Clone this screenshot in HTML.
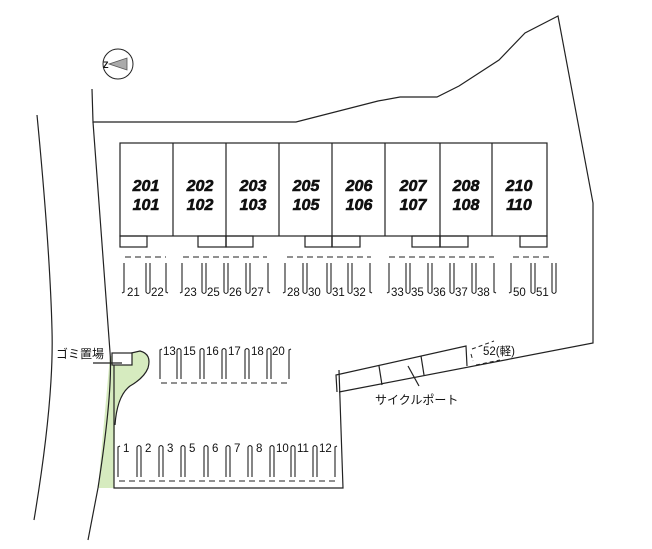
<!DOCTYPE html>
<html><head><meta charset="utf-8"><style>
html,body{margin:0;padding:0;background:#fff;}
svg{display:block;}
.t{font-family:"Liberation Sans","Noto Sans CJK JP",sans-serif;font-size:11.5px;fill:#111;}
.b{font-family:"Liberation Sans","Noto Sans CJK JP",sans-serif;font-size:16px;font-weight:bold;font-style:italic;fill:#111;stroke:#111;stroke-width:0.6;text-anchor:middle;}
.j{font-family:"Liberation Sans","Noto Sans CJK JP",sans-serif;font-size:12px;fill:#111;}
</style></head><body>
<svg width="652" height="549" viewBox="0 0 652 549" xmlns="http://www.w3.org/2000/svg" fill="none" stroke="#222" stroke-width="1.2">
<path d="M37,115 Q50,250 52,330 Q54,400 34,520"/>
<path d="M113,356 L140,351 Q152,354 148,368 Q144,378 130,386 Q118,396 115,420 L114,488 L98,488 L110,356 Z" fill="#d6ebbf" stroke="none"/>
<path d="M114,357 L140,351 Q152,354 148,368 Q144,378 130,386 Q117,396 115,425" />
<path d="M92,89 L93,122 L296,122 L378,101 L400,97 L437,97 L459,86 L499,60 L525,33 L558,16 L593,203 L593,343 L339,392"/>
<path d="M93,122 L110,352 Q113,390 98,488 L88,540"/>
<path d="M114,356 L114,488 L343,488 L339,370"/>
<rect x="112" y="353" width="20" height="12" fill="#fff"/>
<line x1="93" y1="363" x2="122" y2="363"/>
<text class="j" x="56" y="358" stroke="none">ゴミ置場</text>
<circle cx="118" cy="64" r="15" stroke-width="1"/>
<path d="M109,64 L127,58 L127,70 Z" fill="#aaa" stroke="#555" stroke-width="0.8"/>
<text x="103" y="68" font-family="Liberation Sans" font-size="9" font-weight="bold" fill="#111" stroke="none">Z</text>
<rect x="120" y="143" width="427" height="93"/>
<g>
<line x1="173" y1="143" x2="173" y2="236"/><line x1="226" y1="143" x2="226" y2="247"/>
<line x1="279" y1="143" x2="279" y2="236"/><line x1="332" y1="143" x2="332" y2="247"/>
<line x1="385" y1="143" x2="385" y2="236"/><line x1="440" y1="143" x2="440" y2="247"/>
<line x1="492" y1="143" x2="492" y2="236"/>
<rect x="120" y="236" width="27" height="11"/><rect x="198" y="236" width="28" height="11"/>
<rect x="226" y="236" width="27" height="11"/><rect x="305" y="236" width="27" height="11"/>
<rect x="332" y="236" width="28" height="11"/><rect x="412" y="236" width="28" height="11"/>
<rect x="440" y="236" width="28" height="11"/><rect x="520" y="236" width="27" height="11"/>
</g>
<g>
<text class="b" x="146" y="191">201</text><text class="b" x="146" y="210">101</text>
<text class="b" x="200" y="191">202</text><text class="b" x="200" y="210">102</text>
<text class="b" x="253" y="191">203</text><text class="b" x="253" y="210">103</text>
<text class="b" x="306" y="191">205</text><text class="b" x="306" y="210">105</text>
<text class="b" x="359" y="191">206</text><text class="b" x="359" y="210">106</text>
<text class="b" x="413" y="191">207</text><text class="b" x="413" y="210">107</text>
<text class="b" x="466" y="191">208</text><text class="b" x="466" y="210">108</text>
<text class="b" x="519" y="191">210</text><text class="b" x="519" y="210">110</text>
</g>
<g stroke-width="1.1">
<path d="M125,257 H166 M183,257 H267 M287,257 H371 M389,257 H494 M513,257 H553" stroke-dasharray="6,4"/>
<path d="M124,263 V292 L122,293 M146,263 V292 Q148,295 150,292 V263 M166,263 V292 L168,293"/>
<path d="M182,263 V292 L180,293 M202,263 V292 Q204,295 206,292 V263 M224,263 V292 Q226,295 228,292 V263 M246,263 V292 Q248,295 250,292 V263 M268,263 V292 L270,293"/>
<path d="M285,263 V292 L283,293 M303,263 V292 Q305,295 307,292 V263 M327,263 V292 Q329,295 331,292 V263 M348,263 V292 Q350,295 352,292 V263 M370,263 V292 L372,293"/>
<path d="M389,263 V292 L387,293 M406,263 V292 Q408,295 410,292 V263 M428,263 V292 Q430,295 432,292 V263 M450,263 V292 Q452,295 454,292 V263 M472,263 V292 Q474,295 476,292 V263 M494,263 V292 L496,293"/>
<path d="M511,263 V292 L509,293 M531,263 V292 Q533,295 535,292 V263 M552,263 V292 Q554,295 556,292 V263"/>
</g>
<g stroke="none">
<text class="t" x="127" y="296">21</text><text class="t" x="151" y="296">22</text>
<text class="t" x="184" y="296">23</text><text class="t" x="207" y="296">25</text><text class="t" x="229" y="296">26</text><text class="t" x="251" y="296">27</text>
<text class="t" x="287" y="296">28</text><text class="t" x="308" y="296">30</text><text class="t" x="332" y="296">31</text><text class="t" x="353" y="296">32</text>
<text class="t" x="391" y="296">33</text><text class="t" x="411" y="296">35</text><text class="t" x="433" y="296">36</text><text class="t" x="455" y="296">37</text><text class="t" x="477" y="296">38</text>
<text class="t" x="513" y="296">50</text><text class="t" x="536" y="296">51</text>
</g>
<g stroke-width="1.1">
<path d="M161,383 H290" stroke-dasharray="6,4"/>
<path d="M160,379 V350 L162,349 M177,379 V350 Q179,347 181,350 V379 M200,379 V350 Q202,347 204,350 V379 M222,379 V350 Q224,347 226,350 V379 M245,379 V350 Q247,347 249,350 V379 M267,379 V350 Q269,347 271,350 V379 M289,379 V350 L291,349"/>
</g>
<g stroke="none">
<text class="t" x="163" y="355">13</text><text class="t" x="183" y="355">15</text><text class="t" x="206" y="355">16</text><text class="t" x="228" y="355">17</text><text class="t" x="251" y="355">18</text><text class="t" x="272" y="355">20</text>
</g>
<g stroke-width="1.1">
<path d="M119,481 H337" stroke-dasharray="6,4"/>
<path d="M118,477 V447 L120,446 M137,477 V447 Q139,444 141,447 V477 M159,477 V447 Q161,444 163,447 V477 M181,477 V447 Q183,444 185,447 V477 M204,477 V447 Q206,444 208,447 V477 M226,477 V447 Q228,444 230,447 V477 M248,477 V447 Q250,444 252,447 V477 M270,477 V447 Q272,444 274,447 V477 M291,477 V447 Q293,444 295,447 V477 M313,477 V447 Q315,444 317,447 V477 M335,477 V447 L337,446"/>
</g>
<g stroke="none">
<text class="t" x="123" y="452">1</text><text class="t" x="145" y="452">2</text><text class="t" x="167" y="452">3</text><text class="t" x="189" y="452">5</text><text class="t" x="212" y="452">6</text><text class="t" x="234" y="452">7</text><text class="t" x="256" y="452">8</text><text class="t" x="276" y="452">10</text><text class="t" x="297" y="452">11</text><text class="t" x="319" y="452">12</text>
</g>
<path d="M337,392 L336,375 L466,346 L467,366"/>
<line x1="379" y1="366" x2="382" y2="385"/>
<line x1="421" y1="356" x2="424" y2="375"/>
<line x1="408" y1="366" x2="419" y2="386"/>
<text class="j" x="375" y="404" stroke="none">サイクルポート</text>
<path d="M472,349 L494,341 M471,354 L473,361 M476,365 L500,360" stroke-width="1" stroke-dasharray="4,3"/>
<text class="t" x="483" y="355" stroke="none">52(軽)</text>
</svg>
</body></html>
